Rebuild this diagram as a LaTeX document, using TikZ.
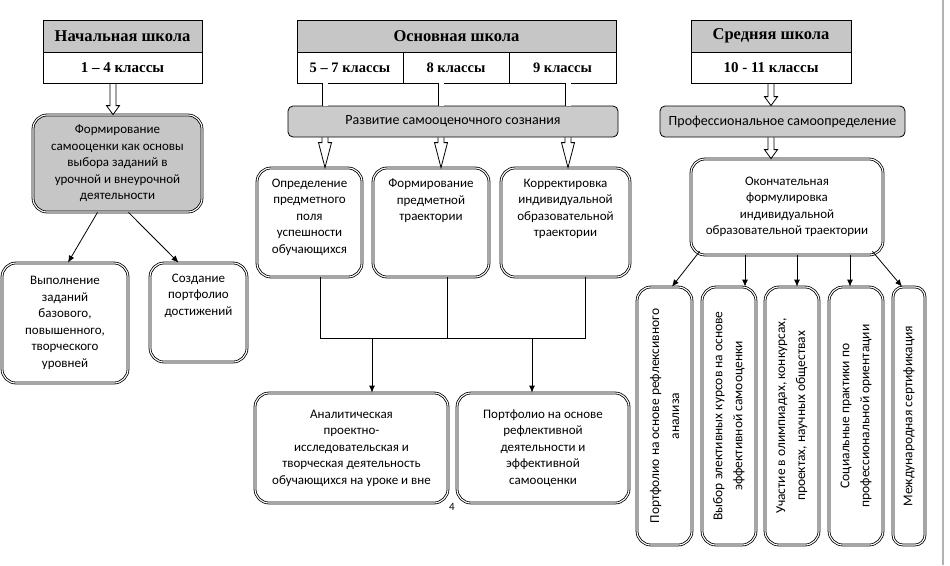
\documentclass[tikz,border=0pt]{standalone}
\usepackage{fontspec}
\setmainfont{Carlito}
\newfontfamily\headfont{Liberation Serif}
\usetikzlibrary{positioning,calc,arrows.meta}

\definecolor{boxgray}{HTML}{C6C6C6}
\definecolor{bandgray}{HTML}{CBCBCB}

\tikzset{
  hdr/.style={draw, line width=1pt, fill=boxgray, outer sep=0pt, inner sep=0pt,
    minimum height=32pt, font=\headfont\bfseries\fontsize{16.5}{18}\selectfont},
  cls/.style={draw, line width=1pt, outer sep=0pt, inner sep=0pt,
    minimum height=31pt, font=\headfont\bfseries\fontsize{15}{17}\selectfont},
  band/.style={draw, line width=0.8pt, fill=bandgray, rounded corners=5pt,
    minimum height=31pt, inner sep=0pt, font=\fontsize{14}{16}\selectfont},
  card/.style={draw, double, line width=0.8pt, double distance=1.1pt,
    rounded corners=14pt, inner sep=0pt, align=center,
    font=\fontsize{13}{16.5}\selectfont},
  txt/.style={align=center, inner sep=0pt, font=\fontsize{13}{16.5}\selectfont},
  vcard/.style={card, rotate=90, font=\fontsize{13.5}{20}\selectfont},
  link/.style={line width=0.8pt, -{Latex[length=7pt,width=6pt]}},
  shaft/.style={double, line width=0.8pt, double distance=5pt},
  hollow/.style={draw, line width=0.8pt, to path={
    let \p1=(\tikztostart), \p2=(\tikztotarget) in
    (\x1-3pt,\y1) -- (\x1-3pt,\y2+#1) -- (\x1-6.5pt,\y2+#1) -- (\x1,\y2)
    -- (\x1+6.5pt,\y2+#1) -- (\x1+3pt,\y2+#1) -- (\x1+3pt,\y1)}},
  hollow/.default=9pt
}

\begin{document}
\begin{tikzpicture}[x=1pt, y=-1pt]
  \useasboundingbox (0,0) rectangle (950,565);
  % page edge
  \draw[black!30, line width=1.5pt] (943,0) -- (943,565);

  % Начальная школа
  \node[hdr, minimum width=159pt] (nhT) at (122.5,36) {Начальная школа};
  \node[cls, minimum width=159pt, below=0pt of nhT] (nhC) {1 – 4 классы};
  \node[card, fill=boxgray, minimum width=169pt, minimum height=97pt] (fsam) at (117.5,163.5)
    {Формирование\\самооценки как основы\\выбора заданий в\\урочной и внеурочной\\деятельности};
  \node[card, minimum width=126pt, minimum height=120pt] (vyp) at (65,323)
    {Выполнение\\заданий\\базового,\\повышенного,\\творческого\\уровней};
  \node[card, minimum width=97pt, minimum height=99pt] (soz) at (198.5,312.5) {};
  \node[txt, below=11pt of soz.north] (sozT) {Создание\\портфолио\\достижений};

  \coordinate (nhA) at (113,83);
  \draw[hollow] (nhA) to (nhA |- fsam.north);
  \draw[link] ([xshift=-20pt]fsam.south) -- ([xshift=3pt]vyp.north);
  \draw[link] ([xshift=11pt]fsam.south) -- ([xshift=-20pt]soz.north);

  % Основная школа
  \node[hdr, minimum width=319pt] (osT) at (456.5,36) {Основная школа};
  \node[cls, minimum width=106pt, anchor=north west, font=\headfont\bfseries\fontsize{14.5}{17}\selectfont] (os1) at (osT.south west) {5 – 7 классы};
  \node[cls, minimum width=106pt, right=0pt of os1, font=\headfont\bfseries\fontsize{14.5}{17}\selectfont] (os2) {8 классы};
  \node[cls, minimum width=107pt, right=0pt of os2, font=\headfont\bfseries\fontsize{14.5}{17}\selectfont] (os3) {9 классы};
  \node[band, minimum width=330pt] (rs) at (453,121.5) {Развитие самооценочного сознания};

  \node[card, minimum width=105pt, minimum height=109pt] (op1) at (309.5,222.5) {};
  \node[txt, below=11pt of op1.north] (op1T) {Определение\\предметного\\поля\\успешности\\обучающихся};
  \node[card, minimum width=116pt, minimum height=109pt] (op2) at (431,222.5) {};
  \node[txt, below=11pt of op2.north] (op2T) {Формирование\\предметной\\траектории};
  \node[card, minimum width=129pt, minimum height=109pt] (op3) at (565.5,222.5) {};
  \node[txt, below=11pt of op3.north] (op3T) {Корректировка\\индивидуальной\\образовательной\\траектории};

  \foreach \ax [count=\i] in {325,441,568} {
    \coordinate (ma\i) at (\ax,83);
    \draw[shaft] (ma\i) -- (ma\i |- rs.north);
    \draw[hollow=25pt] (ma\i |- rs.south) to (ma\i |- op1.north);
  }

  \node[card, minimum width=193pt, minimum height=110pt] (an) at (351.5,448)
    {Аналитическая\\проектно-\\исследовательская и\\творческая деятельность\\обучающихся на уроке и вне};
  \node[card, minimum width=172pt, minimum height=110pt] (pf) at (543,448)
    {Портфолио на основе\\рефлективной\\деятельности и\\эффективной\\самооценки};
  \node[font=\fontsize{11}{12}\selectfont] (pg) at (452,507) {4};

  \coordinate (jL) at (320,338);
  \coordinate (jR) at (585,338);
  \draw[line width=0.8pt] (jL |- op1.south) -- (jL) -- (jR) -- (jR |- op3.south);
  \draw[line width=0.8pt] ([xshift=16pt]op2.south) -- ([xshift=16pt]op2.south |- jL);
  \coordinate (d1) at (372,338);
  \coordinate (d2) at (532,338);
  \draw[link] (d1) -- (d1 |- an.north);
  \draw[link] (d2) -- (d2 |- pf.north);

  % Средняя школа
  \node[hdr, minimum width=160pt] (ssT) at (771,36) {Средняя школа};
  \node[cls, minimum width=160pt, below=0pt of ssT] (ssC) {10 - 11 классы};
  \node[band, minimum width=245pt] (ps) at (782.5,121.5) {Профессиональное самоопределение};
  \node[card, minimum width=192pt, minimum height=96pt] (ok) at (787,207)
    {Окончательная\\формулировка\\индивидуальной\\образовательной траектории};
  \draw[hollow] (ssC.south) to (ssC.south |- ps.north);
  \draw[hollow] (ssC.south |- ps.south) to (ssC.south |- ok.north);

  \node[vcard, minimum width=258pt, minimum height=55pt] (v1) at (664.5,416)
    {Портфолио на основе рефлексивного\\анализа};
  \node[vcard, minimum width=258pt, minimum height=54pt] (v2) at (729,416)
    {Выбор элективных курсов на основе\\эффективной самооценки};
  \node[vcard, minimum width=258pt, minimum height=54pt] (v3) at (792,416)
    {Участие в олимпиадах, конкурсах,\\проектах, научных обществах};
  \node[vcard, minimum width=258pt, minimum height=54pt] (v4) at (856,416)
    {Социальные практики по\\профессиональной ориентации};
  \node[vcard, minimum width=258pt, minimum height=32pt, rounded corners=10pt] (v5) at (909,416)
    {Международная сертификация};

  \draw[link] ([xshift=9pt,yshift=4pt]ok.south west) -- ([xshift=7.5pt]v1.east);
  \draw[link] ([xshift=-42pt]ok.south) -- ([xshift=-42pt]ok.south |- v2.east);
  \draw[link] ([xshift=10pt]ok.south) -- ([xshift=10pt]ok.south |- v3.east);
  \draw[link] ([xshift=63pt]ok.south) -- ([xshift=63pt]ok.south |- v4.east);
  \draw[link] ([xshift=-11pt,yshift=4pt]ok.south east) -- ([xshift=-7pt]v5.east);
\end{tikzpicture}
\end{document}
